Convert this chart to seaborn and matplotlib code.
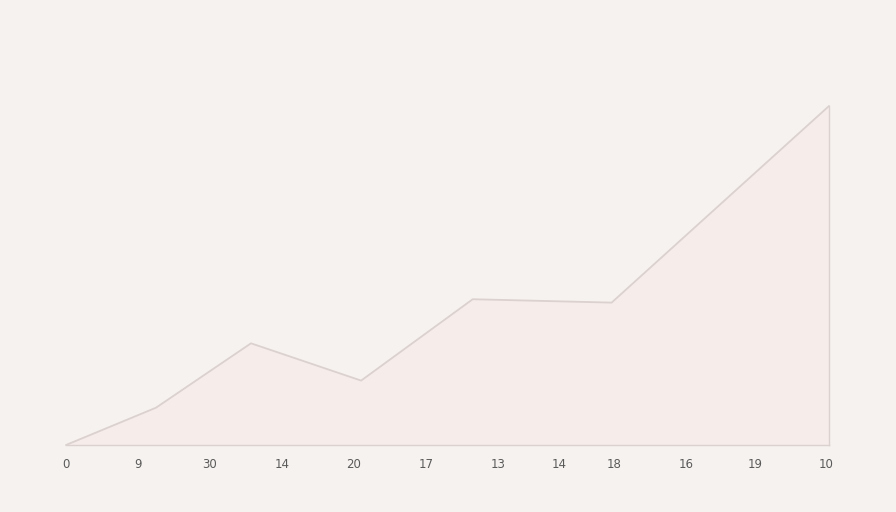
"""Soft area chart with categorical-looking tick labels."""
import matplotlib
matplotlib.use("Agg")
import matplotlib.pyplot as plt
import seaborn as sns

# line vertices (x in tick units, y as share of the top value)
x_pos = [0, 1.25, 2.57, 4.1, 5.65, 7.58, 10.6]
values = [0, 11, 30, 19, 43, 42, 100]

# tick positions and their labels along the bottom axis
tick_pos = [0, 1, 2, 3, 3.99, 5, 6, 6.85, 7.61, 8.61, 9.58, 10.56]
tick_labels = ["0", "9", "30", "14", "20", "17", "13", "14", "18", "16", "19", "10"]

bg = "#f6f2ef"
fill_col = "#f6edea"
line_col = "#dbd1ce"

sns.set_theme(style="white")
plt.rcParams['font.family'] = ['DejaVu Sans']

fig = plt.figure(figsize=(8.96, 5.12), dpi=100, facecolor=bg)
ax = fig.add_axes([66 / 896, 67 / 512, (829 - 66) / 896, (445 - 106) / 512])
ax.set_facecolor(bg)

ax.fill_between(x_pos, values, 0, color=fill_col, linewidth=0)
sns.lineplot(x=x_pos, y=values, ax=ax, color=line_col, linewidth=1.3,
             clip_on=False)

ax.set_xlim(0, 10.6)
ax.set_ylim(0, 100)
ax.set_xticks(tick_pos)
ax.set_xticklabels(tick_labels, fontsize=8.5, color="#5a5a5a")
ax.set_yticks([])
ax.tick_params(axis="x", length=3, width=0.8, color="#e2dad7", pad=6)

for side in ["top", "left"]:
    ax.spines[side].set_visible(False)
for side in ["bottom", "right"]:
    ax.spines[side].set_color(line_col)
    ax.spines[side].set_linewidth(1.0)

fig.savefig("out.png", dpi=100, facecolor=bg)
